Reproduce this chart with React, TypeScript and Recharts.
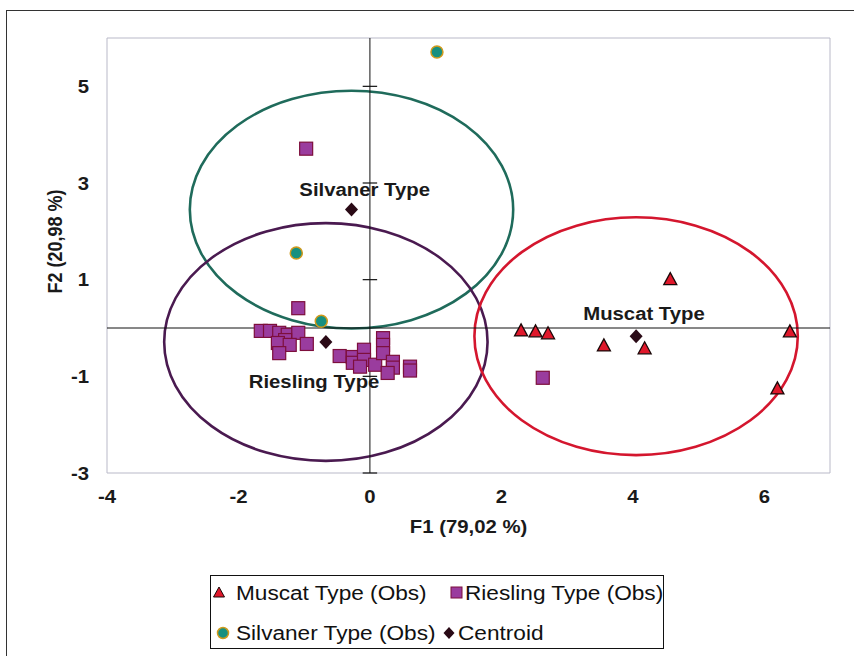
import React from 'react';
import {
  ScatterChart,
  Scatter,
  XAxis,
  YAxis,
  ReferenceLine,
  ReferenceArea,
  ReferenceDot,
} from 'recharts';

// axis ticks
const xTicks = [-4, -2, 0, 2, 4, 6];
const yTicks = [-3, -1, 1, 3, 5];

const muscatX = [2.3, 2.52, 2.71, 3.56, 4.18, 4.57, 6.39, 6.2];
const muscatY = [-0.06, -0.08, -0.12, -0.37, -0.43, 1.0, -0.08, -1.26];

const rieslingX = [
  -0.97, -1.09, 2.63,
  -1.66, -1.52, -1.38, -1.25, -1.09, -1.29, -1.4, -1.22, -0.96, -1.38,
  -0.46, -0.26, -0.26, -0.09, -0.09, -0.15, 0.08, 0.2, 0.2, 0.2, 0.35, 0.35, 0.27, 0.61, 0.61,
];
const rieslingY = [
  3.71, 0.41, -1.03,
  -0.06, -0.06, -0.1, -0.14, -0.1, -0.25, -0.31, -0.35, -0.33, -0.52,
  -0.58, -0.6, -0.72, -0.45, -0.66, -0.8, -0.76, -0.21, -0.35, -0.52, -0.7, -0.82, -0.93, -0.8, -0.88,
];

const silvanerX = [1.02, -1.12, -0.74];
const silvanerY = [5.71, 1.55, 0.14];

// groups: centroid, confidence circle, label
const groupNames = ['Silvaner Type', 'Riesling Type', 'Muscat Type'];
const centroidX = [-0.28, -0.67, 4.05];
const centroidY = [2.45, -0.29, -0.17];
const circleRadius = [2.46, 2.46, 2.46];
const circleColors = ['#1f6b5b', '#4a1a50', '#d4162e'];
const labelX = [-0.08, -0.85, 4.17];
const labelY = [2.74, -1.24, 0.16];

const FONT = '"Liberation Sans", Arial, sans-serif';
const STRETCH = 1.13;

const zip = (xs: number[], ys: number[]) => xs.map((x, i) => ({ x, y: ys[i] }));

const muscatData = zip(muscatX, muscatY);
const rieslingData = zip(rieslingX, rieslingY);
const silvanerData = zip(silvanerX, silvanerY);
const centroidData = zip(centroidX, centroidY);

const Triangle = ({ cx, cy }: any) => (
  <polygon
    points={`${cx},${cy - 7} ${cx - 6.5},${cy + 5} ${cx + 6.5},${cy + 5}`}
    fill="#e0182b"
    stroke="#1a0808"
    strokeWidth={1.3}
  />
);

const Square = ({ cx, cy }: any) => (
  <rect x={cx - 6.5} y={cy - 6.5} width={13} height={13} fill="#9a3c9e" stroke="#7d0f3c" strokeWidth={1.2} />
);

const Dot = ({ cx, cy }: any) => (
  <circle cx={cx} cy={cy} r={6} fill="#179080" stroke="#d09a1c" strokeWidth={1.5} />
);

const Diamond = ({ cx, cy }: any) => (
  <polygon points={`${cx},${cy - 7} ${cx + 6.5},${cy} ${cx},${cy + 7} ${cx - 6.5},${cy}`} fill="#2a0a16" />
);

const XTick = ({ x, y, payload }: any) => (
  <text
    transform={`translate(${x},${y + 22}) scale(${STRETCH},1)`}
    textAnchor="middle"
    fontSize={18}
    fontWeight="bold"
    fontFamily={FONT}
    fill="#1a1a1a"
  >
    {payload.value}
  </text>
);

const YTick = ({ x, y, payload }: any) => (
  <text
    transform={`translate(${x - 10},${y + 6.5}) scale(${STRETCH},1)`}
    textAnchor="end"
    fontSize={18}
    fontWeight="bold"
    fontFamily={FONT}
    fill="#1a1a1a"
  >
    {payload.value}
  </text>
);

const legendText: React.CSSProperties = {
  position: 'absolute',
  fontFamily: FONT,
  fontSize: 19.5,
  lineHeight: '22px',
  whiteSpace: 'nowrap',
  transform: 'scaleX(1.16)',
  transformOrigin: 'left center',
  color: '#111',
};

function ChartLegend() {
  return (
    <div
      style={{
        position: 'absolute',
        left: 210,
        top: 575,
        width: 452,
        height: 72,
        border: '1px solid #111',
        background: '#fff',
        overflow: 'hidden',
      }}
    >
      <svg width={452} height={72} style={{ position: 'absolute', left: 0, top: 0 }}>
        <g transform="translate(-210,-575)">
          <polygon points="218,586 212.5,596 223.5,596" fill="#e0182b" stroke="#1a0808" strokeWidth={1} />
          <rect x={450} y={586} width={11} height={11} fill="#9a3c9e" stroke="#7d0f3c" />
          <circle cx={222} cy={632} r={5.5} fill="#179080" stroke="#d09a1c" strokeWidth={1.5} />
          <polygon points="448,626 453.5,632 448,638 442.5,632" fill="#2a0a16" />
        </g>
      </svg>
      <span style={{ ...legendText, left: 25, top: 6 }}>Muscat Type (Obs)</span>
      <span style={{ ...legendText, left: 254, top: 6 }}>Riesling Type (Obs)</span>
      <span style={{ ...legendText, left: 25, top: 46 }}>Silvaner Type (Obs)</span>
      <span style={{ ...legendText, left: 247, top: 46 }}>Centroid</span>
    </div>
  );
}

export default function App() {
  return (
    <div style={{ position: 'absolute', left: 0, top: 0, width: 854, height: 656, background: '#fff', overflow: 'hidden' }}>
      <div
        style={{
          position: 'absolute',
          left: 6,
          top: 10,
          width: 870,
          height: 700,
          borderTop: '1px solid #333',
          borderLeft: '1px solid #333',
        }}
      />
      <ScatterChart width={854} height={656} margin={{ top: 38, right: 24, bottom: 103, left: 0 }} style={{ position: 'absolute', left: 0, top: 0 }}>
        <XAxis
          type="number"
          dataKey="x"
          domain={[-4, 7]}
          ticks={xTicks}
          axisLine={false}
          tickLine={false}
          tick={<XTick />}
          height={80}
          allowDataOverflow
          label={{
            content: ({ viewBox }: any) => (
              <text
                transform={`translate(${viewBox.x + viewBox.width / 2},${viewBox.y + 60}) scale(${STRETCH},1)`}
                textAnchor="middle"
                fontSize={18}
                fontWeight="bold"
                fontFamily={FONT}
                fill="#1a1a1a"
              >
                F1 (79,02 %)
              </text>
            ),
          }}
        />
        <YAxis
          type="number"
          dataKey="y"
          domain={[-3, 6]}
          ticks={yTicks}
          axisLine={false}
          tickLine={false}
          tick={<YTick />}
          width={107}
          allowDataOverflow
          label={{
            content: ({ viewBox }: any) => (
              <text
                transform={`translate(${viewBox.x + 55},${viewBox.y + viewBox.height / 2 - 14}) scale(${STRETCH},1) rotate(-90)`}
                textAnchor="middle"
                dominantBaseline="central"
                fontSize={18}
                fontWeight="bold"
                fontFamily={FONT}
                fill="#1a1a1a"
              >
                F2 (20,98 %)
              </text>
            ),
          }}
        />
        <ReferenceArea x1={-4} x2={7} y1={-3} y2={6} fill="none" stroke="#b9b9c8" strokeWidth={1} ifOverflow="visible" />
        <ReferenceLine x={0} stroke="#111" strokeWidth={1} />
        <ReferenceLine y={0} stroke="#111" strokeWidth={1} />
        {yTicks.map((t) => (
          <ReferenceLine
            key={t}
            segment={[
              { x: -0.11, y: t },
              { x: 0.11, y: t },
            ]}
            stroke="#111"
            strokeWidth={1.2}
          />
        ))}
        {groupNames.map((name, i) => (
          <ReferenceArea
            key={name}
            x1={centroidX[i] - circleRadius[i]}
            x2={centroidX[i] + circleRadius[i]}
            y1={centroidY[i] - circleRadius[i]}
            y2={centroidY[i] + circleRadius[i]}
            ifOverflow="visible"
            shape={(p: any) => (
              <ellipse
                cx={p.x + p.width / 2}
                cy={p.y + p.height / 2}
                rx={Math.abs(p.width) / 2}
                ry={Math.abs(p.height) / 2}
                fill="none"
                stroke={circleColors[i]}
                strokeWidth={2.6}
              />
            )}
          />
        ))}
        <Scatter name="Riesling Type (Obs)" data={rieslingData} shape={Square} isAnimationActive={false} />
        <Scatter name="Silvaner Type (Obs)" data={silvanerData} shape={Dot} isAnimationActive={false} />
        <Scatter name="Muscat Type (Obs)" data={muscatData} shape={Triangle} isAnimationActive={false} />
        <Scatter name="Centroid" data={centroidData} shape={Diamond} isAnimationActive={false} />
        {groupNames.map((name, i) => (
          <ReferenceDot
            key={name + '-label'}
            x={labelX[i]}
            y={labelY[i]}
            r={0}
            ifOverflow="visible"
            shape={(p: any) => (
              <text
                transform={`translate(${p.cx},${p.cy}) scale(${STRETCH},1)`}
                textAnchor="middle"
                fontSize={18}
                fontWeight="bold"
                fontFamily={FONT}
                fill="#1a1a1a"
              >
                {name}
              </text>
            )}
          />
        ))}
      </ScatterChart>
      <ChartLegend />
    </div>
  );
}
